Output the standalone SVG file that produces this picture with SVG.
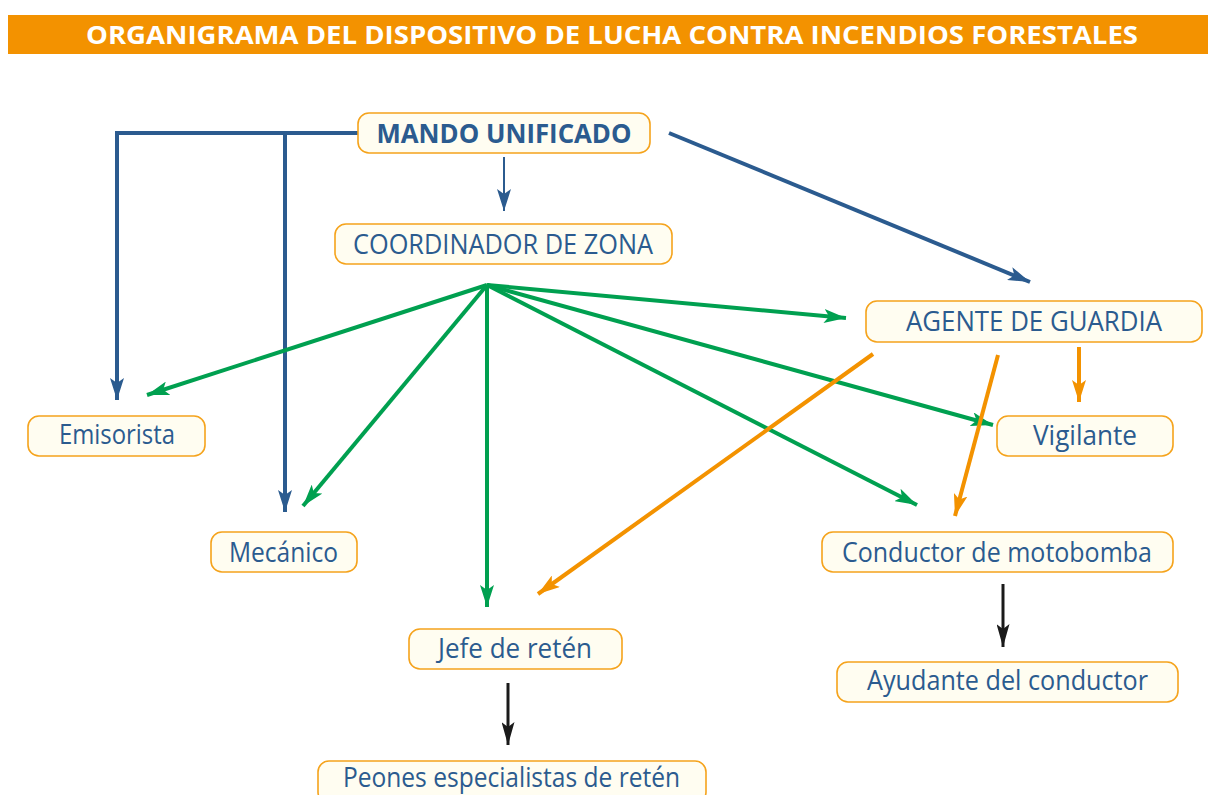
<svg xmlns="http://www.w3.org/2000/svg" width="1208" height="795" viewBox="0 0 1208 795">
<style>
.node rect{fill:#FFFDF1;stroke:#F5A31C;stroke-width:1.6}
.node text{font-family:"Open Sans","Noto Sans","Liberation Sans",sans-serif;font-size:26.5px;fill:#2B5B8F;text-anchor:middle}
.title{font-family:"Open Sans","Liberation Sans",sans-serif;font-weight:bold;font-size:25.5px;fill:#FFFFFF;text-anchor:middle}
.c{fill:none;stroke-linecap:butt}
.blue{stroke:#2B5B8F;stroke-width:4}
.green{stroke:#00A050;stroke-width:4}
.orange{stroke:#F39200;stroke-width:4}
.black{stroke:#1A1A1A;stroke-width:3}
</style>
<defs>
<marker id="ab" markerUnits="userSpaceOnUse" markerWidth="22" markerHeight="14" refX="22" refY="7" orient="auto"><path d="M0,0 L22,7 L0,14 L5,7 z" fill="#2B5B8F"/></marker>
<marker id="ag" markerUnits="userSpaceOnUse" markerWidth="22" markerHeight="14" refX="22" refY="7" orient="auto"><path d="M0,0 L22,7 L0,14 L5,7 z" fill="#00A050"/></marker>
<marker id="ao" markerUnits="userSpaceOnUse" markerWidth="22" markerHeight="14" refX="22" refY="7" orient="auto"><path d="M0,0 L22,7 L0,14 L5,7 z" fill="#F39200"/></marker>
<marker id="ak" markerUnits="userSpaceOnUse" markerWidth="23" markerHeight="13" refX="23" refY="6.5" orient="auto"><path d="M0,0 L23,6.5 L0,13 L5,6.5 z" fill="#1A1A1A"/></marker>
</defs>
<rect x="8" y="15" width="1200" height="39" fill="#F39200"/>
<text class="title" x="612" y="44" textLength="1052" lengthAdjust="spacingAndGlyphs">ORGANIGRAMA DEL DISPOSITIVO DE LUCHA CONTRA INCENDIOS FORESTALES</text>
<g id="connectors">
<path class="c blue" d="M358,133 H117 V400" marker-end="url(#ab)"/>
<path class="c blue" d="M285,133 V512" marker-end="url(#ab)"/>
<path class="c blue" d="M669,133 L1030,282" marker-end="url(#ab)"/>
<path class="c" stroke="#2B5B8F" stroke-width="2" d="M504,157 V211" marker-end="url(#ab)"/>
<path class="c green" d="M487,285 L147,395" marker-end="url(#ag)"/>
<path class="c green" d="M487,285 L303,506" marker-end="url(#ag)"/>
<path class="c green" d="M487,285 L487,607" marker-end="url(#ag)"/>
<path class="c green" d="M487,285 L917,505" marker-end="url(#ag)"/>
<path class="c green" d="M487,285 L993,425" marker-end="url(#ag)"/>
<path class="c green" d="M487,285 L846,318" marker-end="url(#ag)"/>
<path class="c orange" d="M873,354 L538,594" marker-end="url(#ao)"/>
<path class="c orange" d="M998,355 L955,516" marker-end="url(#ao)"/>
<path class="c orange" d="M1079,347 L1079,402" marker-end="url(#ao)"/>
<path class="c black" d="M508,683 L508,745" marker-end="url(#ak)"/>
<path class="c black" d="M1003,584 L1003,647" marker-end="url(#ak)"/>
</g>
<g id="mando" class="node"><rect x="358" y="113" width="292" height="40" rx="11"/><text x="504" y="143" font-weight="bold" textLength="255" lengthAdjust="spacingAndGlyphs">MANDO UNIFICADO</text></g>
<g id="coordinador" class="node"><rect x="335" y="224" width="337" height="40" rx="11"/><text x="503" y="254" textLength="300" lengthAdjust="spacingAndGlyphs">COORDINADOR DE ZONA</text></g>
<g id="agente" class="node"><rect x="866" y="301" width="336" height="41" rx="11"/><text x="1034" y="331" textLength="256" lengthAdjust="spacingAndGlyphs">AGENTE DE GUARDIA</text></g>
<g id="vigilante" class="node"><rect x="997" y="416" width="176" height="40" rx="11"/><text x="1085" y="445" textLength="104" lengthAdjust="spacingAndGlyphs">Vigilante</text></g>
<g id="emisorista" class="node"><rect x="28" y="416" width="177" height="40" rx="11"/><text x="117" y="444" textLength="116" lengthAdjust="spacingAndGlyphs">Emisorista</text></g>
<g id="mecanico" class="node"><rect x="211" y="532" width="146" height="40" rx="11"/><text x="283.5" y="562" textLength="109" lengthAdjust="spacingAndGlyphs">Mecánico</text></g>
<g id="jefe" class="node"><rect x="409" y="629" width="213" height="40" rx="11"/><text x="515" y="658" textLength="154" lengthAdjust="spacingAndGlyphs">Jefe de retén</text></g>
<g id="peones" class="node"><rect x="318" y="761" width="388" height="42" rx="11"/><text x="511.5" y="787" textLength="337" lengthAdjust="spacingAndGlyphs">Peones especialistas de retén</text></g>
<g id="conductor" class="node"><rect x="822" y="532" width="351" height="40" rx="11"/><text x="997" y="562" textLength="310" lengthAdjust="spacingAndGlyphs">Conductor de motobomba</text></g>
<g id="ayudante" class="node"><rect x="837" y="662" width="341" height="40" rx="11"/><text x="1007.5" y="690" textLength="281" lengthAdjust="spacingAndGlyphs">Ayudante del conductor</text></g>
</svg>
